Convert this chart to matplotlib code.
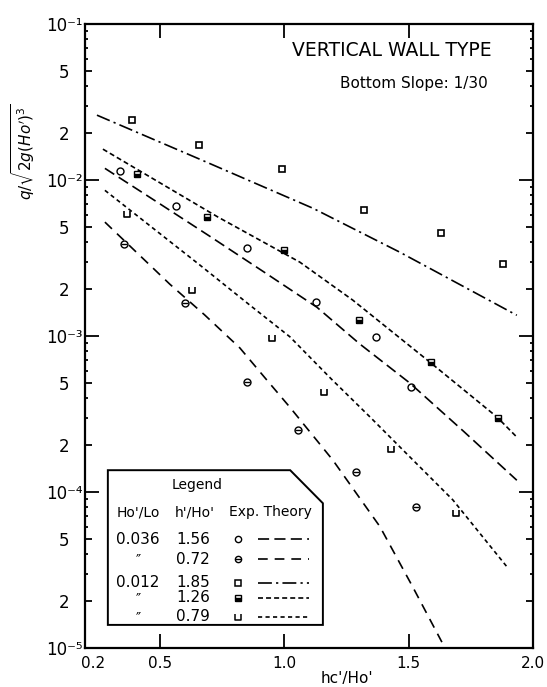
import numpy as np
import matplotlib
matplotlib.use("Agg")
import matplotlib.pyplot as plt
import matplotlib.transforms as mtransforms
from matplotlib.path import Path
from matplotlib.patches import Polygon
from matplotlib.ticker import FixedLocator, NullFormatter, NullLocator

plt.rcParams['lines.scale_dashes'] = False
plt.rcParams['font.family'] = ['DejaVu Sans']

x_exp_156 = [0.34, 0.565, 0.85, 1.13, 1.37, 1.51]
q_exp_156 = [1.14e-2, 6.8e-3, 3.66e-3, 1.65e-3, 9.9e-4, 4.7e-4]

x_exp_072 = [0.357, 0.60, 0.85, 1.055, 1.29, 1.53]
q_exp_072 = [3.9e-3, 1.63e-3, 5.1e-4, 2.5e-4, 1.34e-4, 8.0e-5]

x_exp_185 = [0.39, 0.66, 0.99, 1.32, 1.63, 1.88]
q_exp_185 = [2.43e-2, 1.67e-2, 1.18e-2, 6.4e-3, 4.6e-3, 2.9e-3]

x_exp_126 = [0.41, 0.69, 1.0, 1.30, 1.59, 1.86]
q_exp_126 = [1.1e-2, 5.8e-3, 3.56e-3, 1.27e-3, 6.8e-4, 3.0e-4]

x_exp_079 = [0.37, 0.63, 0.95, 1.16, 1.43, 1.69]
q_exp_079 = [6.1e-3, 1.97e-3, 9.7e-4, 4.4e-4, 1.9e-4, 7.3e-5]

# ---- theory curves ----
x_th_185 = [0.248, 0.662, 1.116, 1.465, 1.935]
q_th_185 = [2.61e-2, 1.36e-2, 6.6e-3, 3.45e-3, 1.36e-3]

x_th_126 = [0.272, 0.734, 1.063, 1.276, 1.586, 1.855, 1.935]
q_th_126 = [1.58e-2, 5.8e-3, 2.98e-3, 1.70e-3, 6.8e-4, 3.03e-4, 2.25e-4]

x_th_156 = [0.28, 0.50, 0.70, 0.92, 1.132, 1.304, 1.505, 1.72, 1.935]
q_th_156 = [1.19e-2, 7.06e-3, 4.38e-3, 2.57e-3, 1.53e-3, 8.9e-4, 5.0e-4,
            2.46e-4, 1.19e-4]

x_th_079 = [0.28, 0.662, 0.86, 1.023, 1.19, 1.345, 1.51, 1.678, 1.899]
q_th_079 = [8.6e-3, 2.85e-3, 1.59e-3, 9.9e-4, 5.3e-4, 3.03e-4, 1.65e-4,
            8.9e-5, 3.26e-5]

x_th_072 = [0.28, 0.541, 0.68, 0.822, 0.923, 1.023, 1.196, 1.385, 1.517,
            1.634]
q_th_072 = [5.38e-3, 2.15e-3, 1.37e-3, 8.4e-4, 5.4e-4, 3.5e-4, 1.6e-4,
            6.0e-5, 2.46e-5, 1.09e-5]

# legend table
leg_ratio = ['0.036', '\u2033', '0.012', '\u2033', '\u2033']
leg_h = ['1.56', '0.72', '1.85', '1.26', '0.79']

dash_long = (0, (8, 3.8))
dash_long2 = (0, (7, 5))
dash_dot = (0, (10, 3, 1.6, 3))
dash_short = (0, (3.6, 2.2))
dash_short2 = (0, (3.0, 2.4))

# open-top square marker
u_marker = Path([(-1, 1), (-1, -1), (1, -1), (1, 1)],
                [Path.MOVETO, Path.LINETO, Path.LINETO, Path.LINETO])

fig = plt.figure(figsize=(5.47, 6.87), dpi=100)
ax = fig.add_axes([0.1554, 0.0568, 0.819, 0.908])

lw = 1.2
ax.plot(x_th_185, q_th_185, color='k', lw=lw, ls=dash_dot)
ax.plot(x_th_126, q_th_126, color='k', lw=lw, ls=dash_short)
ax.plot(x_th_156, q_th_156, color='k', lw=lw, ls=dash_long)
ax.plot(x_th_079, q_th_079, color='k', lw=lw, ls=dash_short2)
ax.plot(x_th_072, q_th_072, color='k', lw=lw, ls=dash_long2)

ms = 5
ax.plot(x_exp_156, q_exp_156, 'o', ms=ms, mfc='none', mec='k', mew=1.0)
ax.plot(x_exp_072, q_exp_072, 'o', ms=ms, mfc='none', mec='k', mew=1.0)
ax.plot(x_exp_072, q_exp_072, '_', ms=ms, mec='k', mew=1.0)
ax.plot(x_exp_185, q_exp_185, 's', ms=4.5, mfc='none', mec='k', mew=1.2)
ax.plot(x_exp_126, q_exp_126, 's', ms=4.5, mfc='k', mec='k', mew=1.0,
        fillstyle='bottom', markerfacecoloralt='white')
ax.plot(x_exp_079, q_exp_079, marker=u_marker, ls='none', ms=4.5,
        mfc='none', mec='k', mew=1.2)

ax.set_yscale('log')
ax.set_xlim(0.2, 2.0)
ax.set_ylim(1e-5, 1e-1)

# y ticks: decades long, 2 and 5 medium, others short
sup = {'-': '\u207b', '1': '\u00b9', '2': '\u00b2', '3': '\u00b3',
       '4': '\u2074', '5': '\u2075'}
decades = [1e-5, 1e-4, 1e-3, 1e-2, 1e-1]
majors = []
minors = []
for d in decades[:-1]:
    for s in range(1, 10):
        v = d * s
        if s in (1, 2, 5):
            majors.append(v)
        else:
            minors.append(v)
majors.append(1e-1)
ax.yaxis.set_major_locator(FixedLocator(majors))
ax.yaxis.set_minor_locator(FixedLocator(minors))
ax.yaxis.set_minor_formatter(NullFormatter())
labels = []
for v in majors:
    e = int(np.floor(np.log10(v) + 1e-9))
    m = int(round(v / 10 ** e))
    if m == 1:
        labels.append('10' + ''.join(sup[c] for c in str(e)))
    else:
        labels.append(str(m))
ax.set_yticklabels(labels, fontsize=12)
for t in ax.get_yticklabels():
    t.set_horizontalalignment('center')
ax.tick_params(axis='y', which='both', direction='in', left=True, right=True,
               width=1.3)
ax.tick_params(axis='y', which='minor', length=2.5)
ax.tick_params(axis='y', which='major', length=5, pad=15)
for t, v in zip(ax.yaxis.get_major_ticks(), majors):
    L = 10 if abs(np.log10(v) - round(np.log10(v))) < 1e-6 else 5
    t.tick1line.set_markersize(L)
    t.tick2line.set_markersize(L)

ax.tick_params(axis='x', direction='in', top=True, bottom=True,
               length=10, width=1.3, labelsize=11, pad=6)
ax.set_xticks([0.2, 0.5, 1.0, 1.5, 2.0])
ax.set_xticklabels(['0.2', '0.5', '1.0', '1.5', '2.0'])
ax.xaxis.set_minor_locator(NullLocator())
for t, v in zip(ax.xaxis.get_major_ticks(), [0.2, 0.5, 1.0, 1.5, 2.0]):
    if v in (0.2, 2.0):
        t.tick1line.set_visible(False)
        t.tick2line.set_visible(False)
# nudge the first x label off the 10^-5 label
first = ax.get_xticklabels()[0]
first.set_transform(first.get_transform() +
                    mtransforms.ScaledTranslation(6 / 72, 0,
                                                  fig.dpi_scale_trans))

for sp in ax.spines.values():
    sp.set_linewidth(1.6)

# annotations
ax.text(0.462, 0.958, 'VERTICAL WALL TYPE', transform=ax.transAxes,
        fontsize=13.5, ha='left', va='center')
ax.text(0.569, 0.905, 'Bottom Slope: 1/30', transform=ax.transAxes,
        fontsize=11, ha='left', va='center')

fig.text(0.042, 0.78, r"$q/\sqrt{2g(Ho')^3}$", rotation=90,
         ha='center', va='center', fontsize=11)
fig.text(0.634, 0.002, "hc'/Ho'", ha='center', va='bottom', fontsize=11)

# legend box with a chamfered corner
box = Polygon([(0.051, 0.037), (0.051, 0.285), (0.458, 0.285),
               (0.531, 0.232), (0.531, 0.037)], closed=True,
              transform=ax.transAxes, fill=True, fc='white', ec='k',
              lw=1.4, zorder=5)
ax.add_patch(box)


def fy(py):
    return (648 - py) / 624.0


def fx(px):
    return (px - 85) / 448.0


ax.text(fx(197), fy(485), 'Legend', transform=ax.transAxes, fontsize=10,
        ha='center', va='center', zorder=6)
ax.text(fx(138), fy(512), "Ho'/Lo", transform=ax.transAxes, fontsize=10,
        ha='center', va='center', zorder=6)
ax.text(fx(195), fy(512), "h'/Ho'", transform=ax.transAxes, fontsize=10,
        ha='center', va='center', zorder=6)
ax.text(fx(270), fy(512), 'Exp. Theory', transform=ax.transAxes, fontsize=10,
        ha='center', va='center', zorder=6)

row_y = [539, 559, 583, 598, 617]
styles = [dash_long, dash_long2, dash_dot, dash_short, dash_short2]
for i in range(5):
    yy = fy(row_y[i])
    ax.text(fx(138), yy, leg_ratio[i], transform=ax.transAxes,
            fontsize=11 if i in (0, 2) else 10, ha='center', va='center',
            zorder=6)
    ax.text(fx(193), yy, leg_h[i], transform=ax.transAxes, fontsize=11,
            ha='center', va='center', zorder=6)
    ax.plot([fx(258), fx(309)], [yy, yy], transform=ax.transAxes, color='k',
            lw=1.2, ls=styles[i], zorder=6)

mx = fx(238)
kw = dict(transform=ax.transAxes, ls='none', zorder=6, mec='k')
ax.plot([mx], [fy(row_y[0])], 'o', ms=4.5, mfc='none', mew=1.0, **kw)
ax.plot([mx], [fy(row_y[1])], 'o', ms=4.5, mfc='none', mew=1.0, **kw)
ax.plot([mx], [fy(row_y[1])], '_', ms=4.5, mew=1.0, **kw)
ax.plot([mx], [fy(row_y[2])], 's', ms=4, mfc='none', mew=1.1, **kw)
ax.plot([mx], [fy(row_y[3])], 's', ms=4, mfc='k', mew=1.0,
        fillstyle='bottom', markerfacecoloralt='white', **kw)
ax.plot([mx], [fy(row_y[4])], marker=u_marker, ms=4, mfc='none', mew=1.1,
        **kw)

fig.savefig('out.png', dpi=100)
